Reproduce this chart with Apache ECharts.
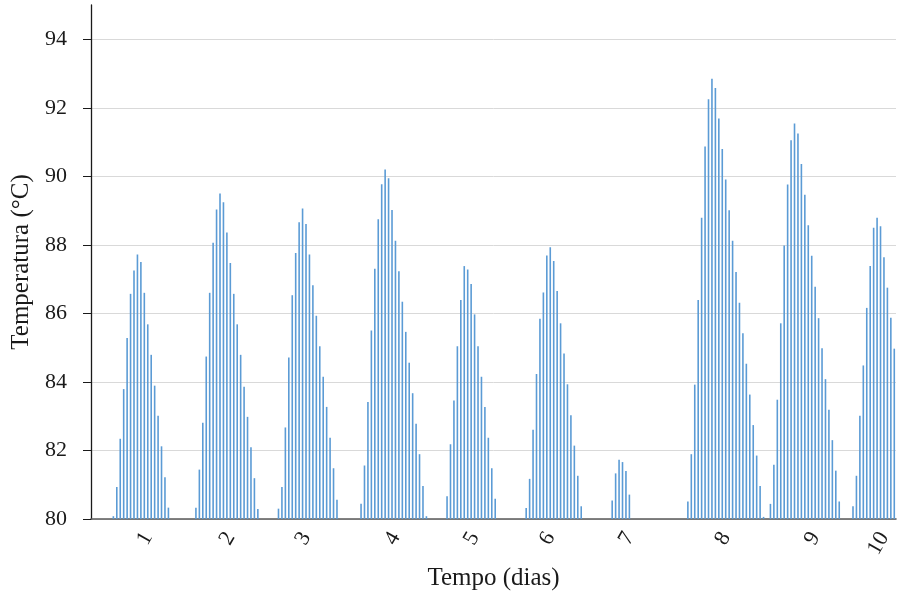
<!DOCTYPE html>
<html>
<head>
<meta charset="utf-8">
<script src="https://cdn.jsdelivr.net/npm/echarts@6/dist/echarts.min.js"></script>
<style>
html,body{margin:0;padding:0;background:#fff;}
#chart{width:897px;height:596px;}
</style>
</head>
<body>
<div id="chart"></div>
<script>
// Temperature (°C) per hourly slot, grouped by day
const day1 = [80.08, 80.93, 82.34, 83.79, 85.28, 86.57, 87.25, 87.72, 87.50, 86.60, 85.68, 84.79, 83.89, 83.01, 82.12, 81.22, 80.33];
const day2 = [80.33, 81.44, 82.81, 84.74, 86.60, 88.06, 89.03, 89.50, 89.24, 88.36, 87.47, 86.57, 85.68, 84.79, 83.86, 82.98, 82.09, 81.19, 80.29];
const day3 = [80.30, 80.93, 82.67, 84.71, 86.53, 87.76, 88.66, 89.06, 88.61, 87.72, 86.82, 85.93, 85.04, 84.15, 83.27, 82.37, 81.48, 80.56];
const day4 = [80.44, 81.56, 83.41, 85.50, 87.30, 88.75, 89.77, 90.20, 89.94, 89.02, 88.12, 87.23, 86.34, 85.46, 84.56, 83.67, 82.78, 81.89, 80.96, 80.08];
const day5 = [80.66, 82.18, 83.46, 85.04, 86.39, 87.38, 87.28, 86.86, 85.97, 85.04, 84.15, 83.27, 82.37, 81.48, 80.59];
const day6 = [80.32, 81.17, 82.60, 84.23, 85.84, 86.61, 87.69, 87.93, 87.53, 86.65, 85.71, 84.83, 83.93, 83.03, 82.14, 81.26, 80.37];
const day7 = [80.54, 81.33, 81.73, 81.66, 81.40, 80.71];
const day8 = [80.51, 81.89, 83.92, 86.39, 88.79, 90.87, 92.25, 92.85, 92.58, 91.69, 90.80, 89.91, 89.01, 88.12, 87.21, 86.31, 85.42, 84.53, 83.63, 82.74, 81.85, 80.96, 80.06];
const day9 = [80.44, 81.58, 83.48, 85.71, 87.98, 89.76, 91.05, 91.54, 91.25, 90.36, 89.46, 88.57, 87.68, 86.78, 85.86, 84.98, 84.08, 83.19, 82.30, 81.41, 80.51];
const day10 = [80.37, 81.26, 83.01, 84.48, 86.16, 87.38, 88.50, 88.79, 88.54, 87.64, 86.75, 85.87, 84.97];
// empty hourly slots (no reading) before each day's readings
const emptySlotsBefore = [6, 7, 5, 6, 5, 8, 8, 16, 1, 3];
// day tick labels and the slot each label belongs to
const dayLabels = ['1', '2', '3', '4', '5', '6', '7', '8', '9', '10'];
const dayLabelSlots = [16, 40, 62, 88, 111, 133, 156, 184, 210, 230];

const days = [day1, day2, day3, day4, day5, day6, day7, day8, day9, day10];
const values = [];
days.forEach((d, i) => {
  for (let k = 0; k < emptySlotsBefore[i]; k++) values.push(null);
  d.forEach(v => values.push(v));
});
const categories = values.map(() => '');
dayLabelSlots.forEach((s, i) => { categories[s] = dayLabels[i]; });

const chart = echarts.init(document.getElementById('chart'), null, {renderer: 'canvas'});
const serif = 'Liberation Serif, Times New Roman, serif';
chart.setOption({
  animation: false,
  backgroundColor: '#ffffff',
  grid: {left: 91, right: 1, top: 5, bottom: 74, containLabel: false},
  xAxis: {
    type: 'category',
    data: categories,
    boundaryGap: true,
    name: 'Tempo (dias)',
    nameLocation: 'middle',
    nameGap: 43,
    nameTextStyle: {fontFamily: serif, fontSize: 25, color: '#1a1a1a'},
    axisLine: {show: true, lineStyle: {color: '#595959', width: 1.6}},
    axisTick: {show: false},
    axisLabel: {
      interval: 0,
      rotate: 60,
      margin: 15,
      fontFamily: serif,
      fontSize: 22,
      color: '#1a1a1a'
    },
    splitLine: {show: false}
  },
  yAxis: {
    type: 'value',
    min: 80,
    max: 95,
    interval: 2,
    startValue: 80,
    name: 'Temperatura (°C)',
    nameLocation: 'middle',
    nameRotate: 90,
    nameGap: 55,
    nameTextStyle: {fontFamily: serif, fontSize: 25, color: '#1a1a1a'},
    axisLine: {show: true, lineStyle: {color: '#1a1a1a', width: 1.3}},
    axisTick: {show: true, inside: false, length: 8, lineStyle: {color: '#1a1a1a', width: 1}},
    axisLabel: {
      margin: 24,
      fontFamily: serif,
      fontSize: 22,
      color: '#1a1a1a',
      showMaxLabel: false
    },
    splitLine: {show: true, showMaxLine: false, lineStyle: {color: '#d9d9d9', width: 1}}
  },
  series: [{
    type: 'bar',
    data: values,
    barWidth: 1.6,
    clip: true,
    itemStyle: {color: '#5b9bd5'}
  }]
});
</script>
</body>
</html>
